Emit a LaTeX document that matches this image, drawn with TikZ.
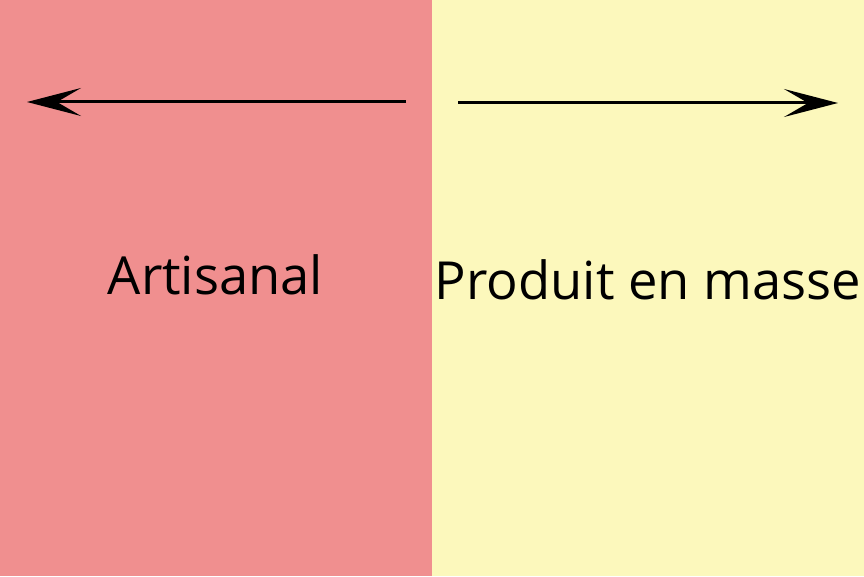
\documentclass[tikz,border=0pt]{standalone}
\usepackage{fontspec}
\setmainfont{Open Sans}
\usetikzlibrary{arrows.meta}
\definecolor{pinkbg}{RGB}{240,143,143}
\definecolor{yellowbg}{RGB}{252,248,188}
\begin{document}
\begin{tikzpicture}[x=1pt,y=1pt,
  arr/.style={line width=3pt,-{Stealth[length=54pt,width=28pt,inset=24pt]}},
  lbl/.style={inner sep=0pt,font=\fontsize{52.5}{56}\selectfont}]
\useasboundingbox (0,0) rectangle (864,576);
\fill[pinkbg] (0,0) rectangle (432,576);
\fill[yellowbg] (432,0) rectangle (864,576);
\coordinate (l0) at (406,474);
\coordinate (l1) at (27,474);
\coordinate (r0) at (458,473);
\coordinate (r1) at (838,473);
\draw[arr] (l0) -- (l1);
\draw[arr] (r0) -- (r1);
\node[lbl,anchor=base] (art) at (215.5,281) {Artisanal};
\node[lbl,anchor=base] (prod) at (648,276) {Produit en masse};
\end{tikzpicture}
\end{document}
